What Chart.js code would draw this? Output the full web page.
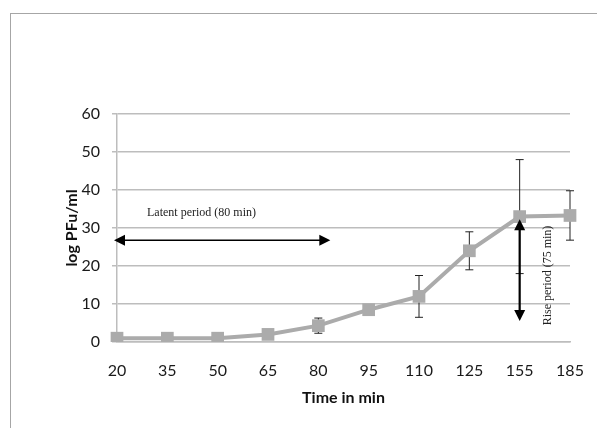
<!DOCTYPE html>
<html>
<head>
<meta charset="utf-8">
<script src="https://cdn.jsdelivr.net/npm/chart.js@4.4.0/dist/chart.umd.min.js"></script>
<style>
  html, body { margin: 0; padding: 0; background: #fff; }
  #wrap { position: relative; width: 597px; height: 428px; overflow: hidden; }
  #frame { position: absolute; left: 10px; top: 13px; width: 620px; height: 440px; border: 1.5px solid #a6a6a6; }
  canvas { position: absolute; left: 0; top: 0; }
</style>
</head>
<body>
<div id="wrap">
  <div id="frame"></div>
  <canvas id="growthChart" width="597" height="428"></canvas>
</div>
<script>
const times = ['20', '35', '50', '65', '80', '95', '110', '125', '155', '185'];
const pfu = [1, 1, 1, 2, 4.3, 8.5, 12, 24, 33, 33.3];
const errPlus = [0.3, 0.3, 0.3, 0.5, 2, 1.2, 5.5, 5, 15, 6.5];
const errMinus = [0.3, 0.3, 0.3, 0.5, 2, 1.2, 5.5, 5, 15, 6.5];

const latentText = 'Latent period (80 min)';
const riseText = 'Rise period (75 min)';

const gray = '#ababab';
const gridGray = '#bdbdbd';

function arrowHead(ctx, x, y, dir) {
  // dir: 'l','r','u','d'
  const s = 11, w = 5.5;
  ctx.beginPath();
  if (dir === 'l') { ctx.moveTo(x, y); ctx.lineTo(x + s, y - w); ctx.lineTo(x + s, y + w); }
  if (dir === 'r') { ctx.moveTo(x, y); ctx.lineTo(x - s, y - w); ctx.lineTo(x - s, y + w); }
  if (dir === 'u') { ctx.moveTo(x, y); ctx.lineTo(x - w, y + s); ctx.lineTo(x + w, y + s); }
  if (dir === 'd') { ctx.moveTo(x, y); ctx.lineTo(x - w, y - s); ctx.lineTo(x + w, y - s); }
  ctx.closePath();
  ctx.fill();
}

// error bars drawn under the markers
const errorBars = {
  id: 'errorBars',
  beforeDatasetsDraw(chart) {
    const ctx = chart.ctx;
    const xs = chart.scales.x, ys = chart.scales.y;
    ctx.save();
    ctx.strokeStyle = '#222';
    ctx.lineWidth = 1;
    pfu.forEach((v, i) => {
      const x = xs.getPixelForValue(i);
      const top = ys.getPixelForValue(v + errPlus[i]);
      const bot = ys.getPixelForValue(v - errMinus[i]);
      ctx.beginPath();
      ctx.moveTo(x, top); ctx.lineTo(x, bot);
      ctx.moveTo(x - 4, top); ctx.lineTo(x + 4, top);
      ctx.moveTo(x - 4, bot); ctx.lineTo(x + 4, bot);
      ctx.stroke();
    });
    ctx.restore();
  }
};

const periods = {
  id: 'periods',
  afterDraw(chart) {
    const ctx = chart.ctx;
    const xs = chart.scales.x, ys = chart.scales.y;
    ctx.save();
    ctx.fillStyle = '#000';
    ctx.strokeStyle = '#000';

    // latent period
    const x0 = xs.getPixelForValue(0) - 3;
    const x1 = xs.getPixelForValue(4) + 12;
    const ya = ys.getPixelForValue(26.8);
    ctx.lineWidth = 1.5;
    ctx.beginPath(); ctx.moveTo(x0 + 6, ya); ctx.lineTo(x1 - 6, ya); ctx.stroke();
    arrowHead(ctx, x0, ya, 'l');
    arrowHead(ctx, x1, ya, 'r');
    ctx.font = '12px "Liberation Serif", serif';
    ctx.textAlign = 'left';
    ctx.textBaseline = 'middle';
    ctx.fillStyle = '#222';
    ctx.fillText(latentText, xs.getPixelForValue(0) + 30, ys.getPixelForValue(34));

    // rise period
    ctx.fillStyle = '#000';
    const xr = xs.getPixelForValue(8);
    const yt = ys.getPixelForValue(32.3);
    const yb = ys.getPixelForValue(5.5);
    ctx.lineWidth = 2.2;
    ctx.beginPath(); ctx.moveTo(xr, yt + 6); ctx.lineTo(xr, yb - 6); ctx.stroke();
    arrowHead(ctx, xr, yt, 'u');
    arrowHead(ctx, xr, yb, 'd');
    ctx.fillStyle = '#222';
    ctx.translate(xr + 28, ys.getPixelForValue(17.5));
    ctx.rotate(-Math.PI / 2);
    ctx.textAlign = 'center';
    ctx.fillText(riseText, 0, 0);
    ctx.restore();
  }
};

const ctx = document.getElementById('growthChart').getContext('2d');
new Chart(ctx, {
  type: 'line',
  data: {
    labels: times,
    datasets: [{
      data: pfu,
      borderColor: gray,
      backgroundColor: gray,
      borderWidth: 4,
      pointStyle: 'rect',
      pointRadius: 9,
      pointBorderWidth: 0,
      pointBackgroundColor: gray,
      tension: 0
    }]
  },
  options: {
    responsive: false,
    animation: false,
    layout: { padding: { left: 58, right: 27, top: 114, bottom: 17 } },
    plugins: { legend: { display: false }, tooltip: { enabled: false } },
    scales: {
      x: {
        offset: false,
        grid: { display: false },
        border: { color: gridGray, width: 1.5 },
        ticks: { color: '#1a1a1a', font: { family: 'Lato', size: 16 }, padding: 11, maxRotation: 0 },
        title: { display: true, text: 'Time in min', color: '#111', font: { family: 'Lato', size: 16, weight: 'bold' }, padding: { top: 4, bottom: 4 } },
        afterFit: s => { s.height = 69; }
      },
      y: {
        min: 0, max: 60,
        ticks: { stepSize: 10, color: '#1a1a1a', font: { family: 'Lato', size: 16 }, padding: 12 },
        grid: { color: gridGray, lineWidth: 1.5, tickLength: 5 },
        border: { color: gridGray, width: 1.5 },
        title: { display: true, text: 'log PFu/ml', color: '#111', font: { family: 'Lato', size: 16, weight: 'bold' }, padding: { top: 4, bottom: 4 } },
        afterFit: s => { s.width = 59; }
      }
    }
  },
  plugins: [errorBars, periods]
});
</script>
</body>
</html>
